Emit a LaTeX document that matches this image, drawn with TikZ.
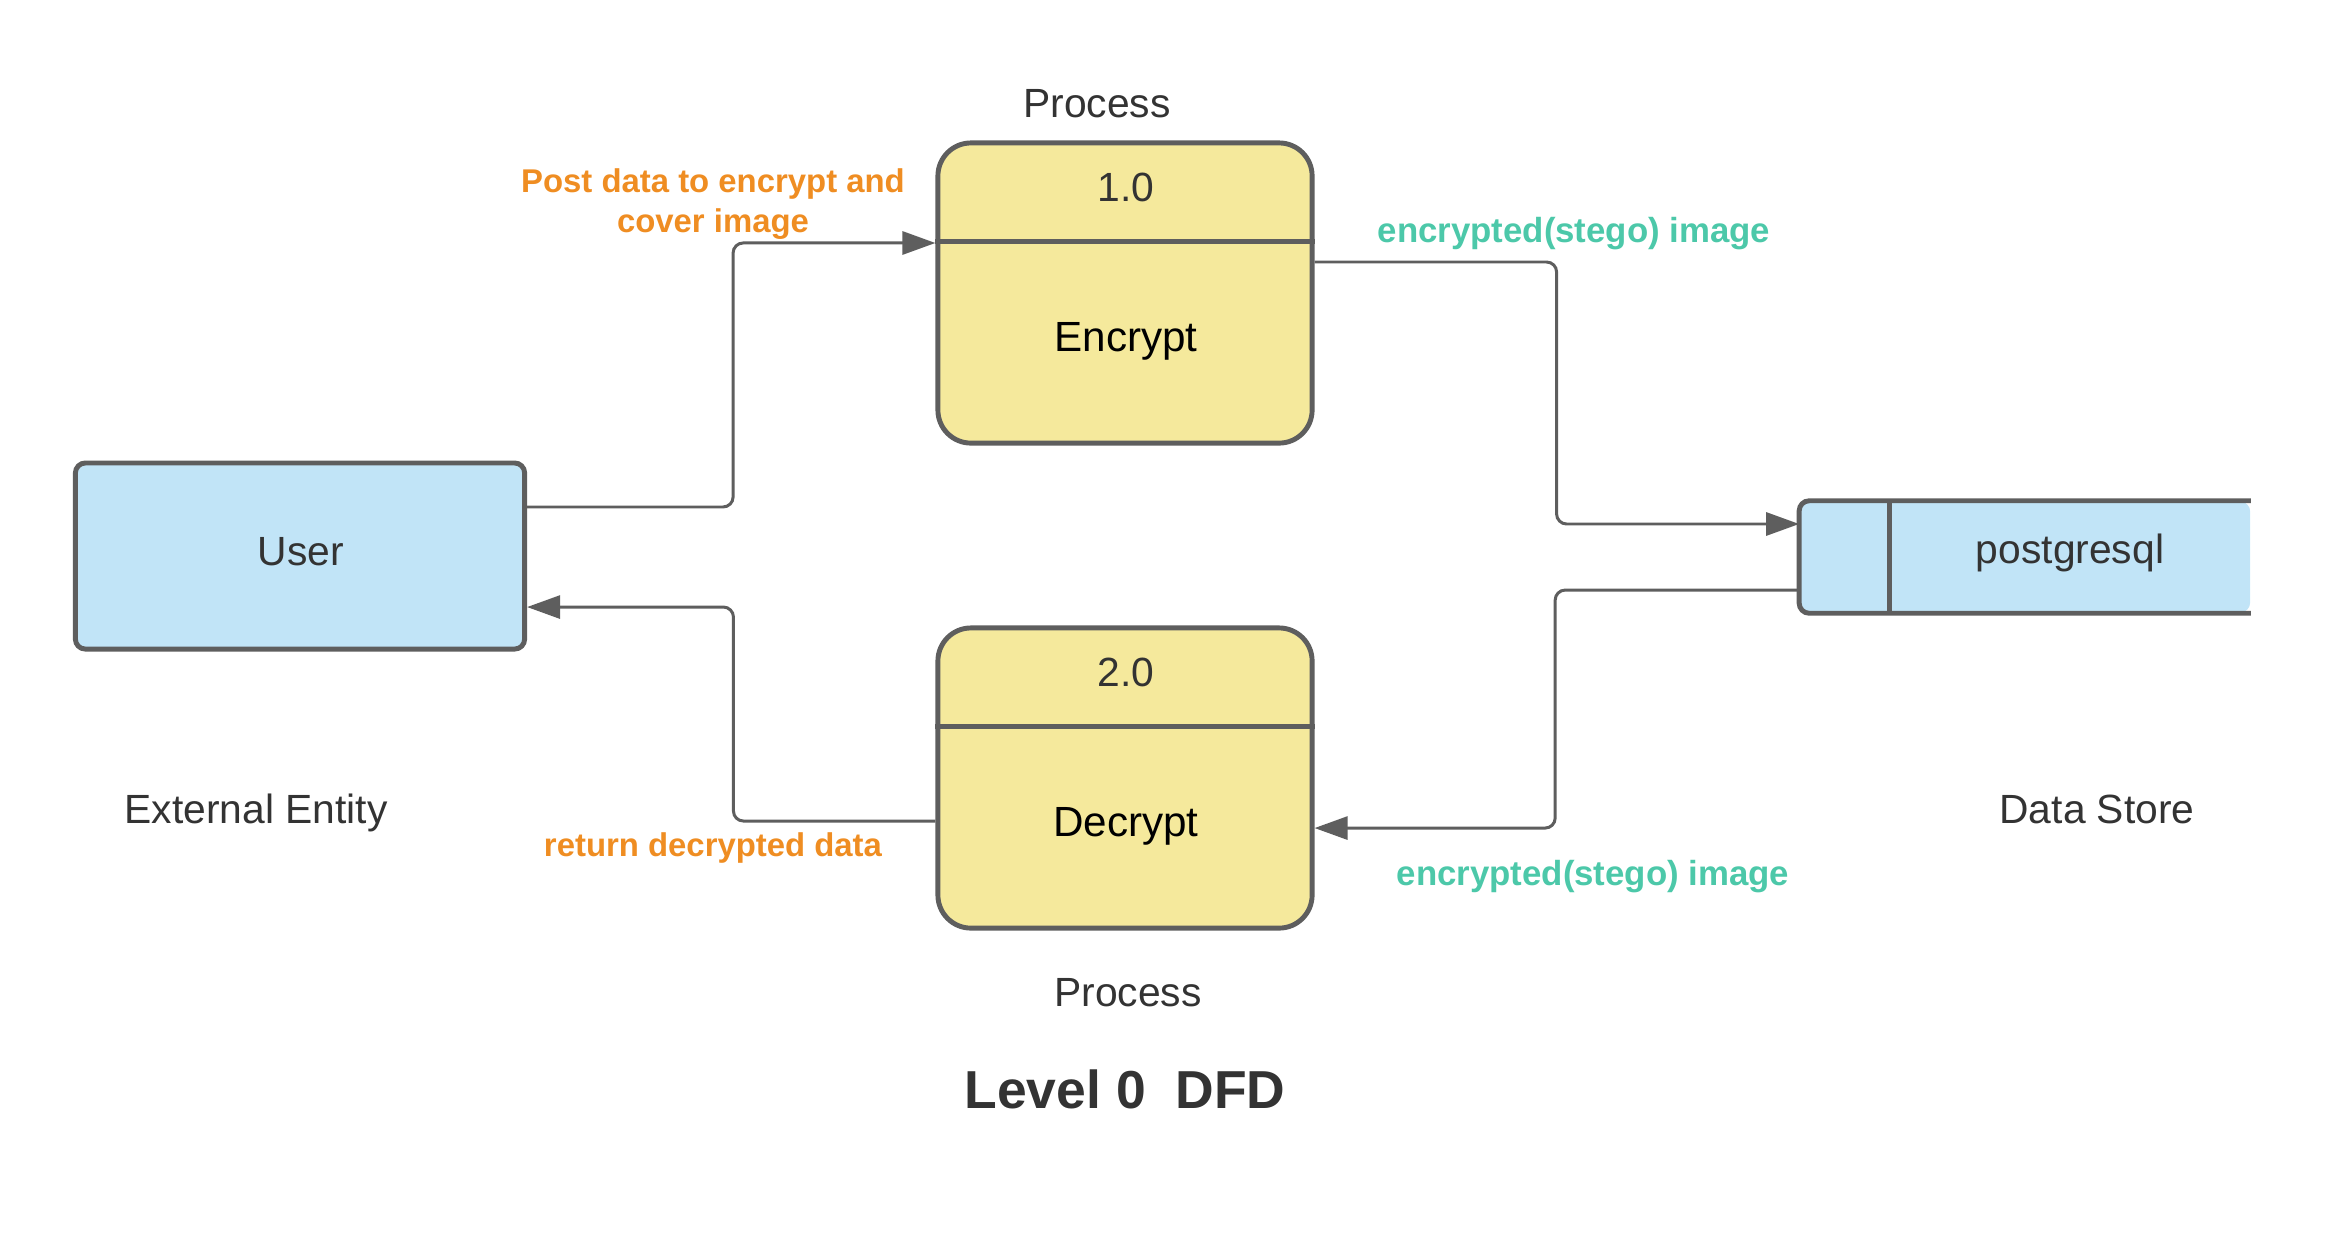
\documentclass[tikz,border=0pt]{standalone}
\usepackage{fontspec}
\setmainfont{Liberation Sans}
\usetikzlibrary{arrows.meta,calc}

\definecolor{edgegrey}{HTML}{5E5E5E}
\definecolor{textgrey}{HTML}{333333}
\definecolor{procyellow}{HTML}{F5E99C}
\definecolor{storeblue}{HTML}{C1E4F7}
\definecolor{flowrange}{HTML}{EF8D22}
\definecolor{flowteal}{HTML}{4CC8A9}

\begin{document}
\begin{tikzpicture}[x=0.01cm, y=-0.01cm,
  proc/.style={rectangle, draw=edgegrey, line width=1.4pt, fill=procyellow, rounded corners=3.3mm, minimum width=3.74cm, minimum height=3cm},
  entity/.style={rectangle, draw=edgegrey, line width=1.4pt, fill=storeblue, rounded corners=1mm, minimum width=4.49cm, minimum height=1.86cm},
  txt/.style={anchor=base, inner sep=0, text=textgrey, font=\fontsize{11.6}{14}\selectfont},
  proctxt/.style={anchor=base, inner sep=0, text=black, font=\fontsize{12}{14}\selectfont},
  outlbl/.style={inner sep=0, text=flowrange, align=center, font=\bfseries\fontsize{9.35}{11.4}\selectfont},
  inlbl/.style={anchor=base, inner sep=0, text=flowteal, font=\bfseries\fontsize{9.9}{12}\selectfont},
  flow/.style={draw=edgegrey, line width=0.85pt, rounded corners=1mm, -{Triangle[length=3.3mm, width=2.3mm]}}]
  \useasboundingbox (0,0) rectangle (2325,1232);

  % boxes
  \node[entity] (user) at (300,556) {};
  \node[proc] (enc) at (1125,293) {};
  \node[proc] (dec) at (1125,778) {};
  \node[rectangle, fill=storeblue, rounded corners=1mm, minimum width=4.5cm, minimum height=1.11cm] (store) at (2025,557) {};
  \draw[edgegrey, line width=1.4pt, rounded corners=1mm] (store.north east) -- (store.north west) -- (store.south west) -- (store.south east);
  \draw[edgegrey, line width=1.4pt] ([xshift=9mm]store.north west) -- ([xshift=9mm]store.south west);
  \draw[edgegrey, line width=1.4pt] ($(enc.north west)!0.33!(enc.south west)$) -- ($(enc.north east)!0.33!(enc.south east)$);
  \draw[edgegrey, line width=1.4pt] ($(dec.north west)!0.33!(dec.south west)$) -- ($(dec.north east)!0.33!(dec.south east)$);

  % texts in boxes
  \node[txt] (usertxt) at (301,565) {User};
  \node[txt] (encnum) at (1126,201) {1.0};
  \node[proctxt] (enctxt) at (1126,351) {Encrypt};
  \node[txt] (decnum) at (1126,686) {2.0};
  \node[proctxt] (dectxt) at (1126,836) {Decrypt};
  \node[txt] (storetxt) at (2070,563) {postgresql};

  % captions
  \node[txt] (enccap) at (1097,117) {Process};
  \node[txt] (deccap) at (1128,1006) {Process};
  \node[txt] (usercap) at (256,823) {External Entity};
  \node[txt] (storecap) at (2097,823) {Data Store};
  \node[anchor=base, inner sep=0, text=textgrey, font=\bfseries\fontsize{15.2}{18}\selectfont] (title) at (1125,1108) {Level 0\ \ DFD};

  % flows
  \draw[flow] ([yshift=4.9mm]user.east) -- ++(206,0) |- ([yshift=5mm]enc.west);
  \draw[flow] ([yshift=3.1mm]enc.east) -- ++(242,0) |- ([yshift=3.3mm]store.west);
  \draw[flow] ([yshift=-3.3mm]store.west) -- ++(-244,0) |- ([yshift=-5mm]dec.east);
  \draw[flow] ([yshift=-4.3mm]dec.west) -- ++(-202,0) |- ([yshift=-5.1mm]user.east);

  % flow labels
  \node[outlbl] (postlbl) at (713,204) {Post data to encrypt and\\cover image};
  \node[inlbl] (stegoin) at (1574,242) {encrypted(stego) image};
  \node[inlbl] (stegoout) at (1593,885) {encrypted(stego) image};
  \node[outlbl, anchor=base] (retlbl) at (713,856) {return decrypted data};
\end{tikzpicture}
\end{document}
